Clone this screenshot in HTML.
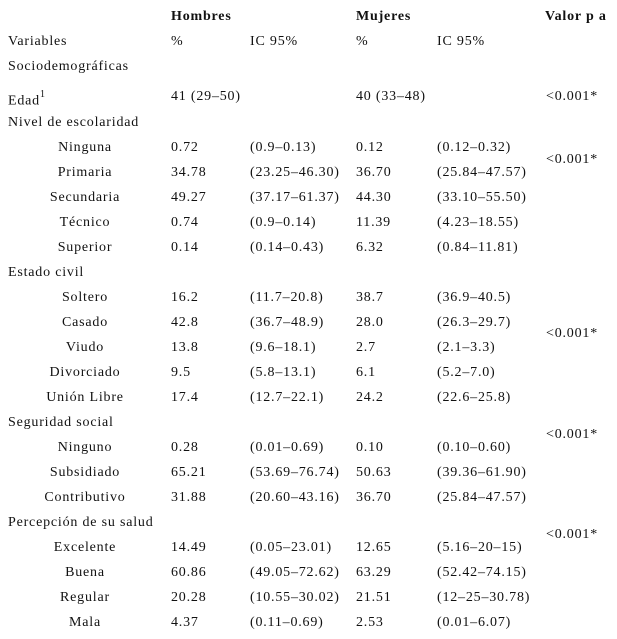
<!DOCTYPE html>
<html><head><meta charset="utf-8"><style>
body{margin:0;width:617px;height:639px;background:#fff;font-family:"Liberation Serif","DejaVu Serif",serif;font-size:14px;letter-spacing:0.8px;color:#111;position:relative;overflow:hidden}
div{position:absolute;white-space:nowrap;line-height:16px}
.b{font-weight:bold;letter-spacing:0.8px}
.c{width:170px;left:0;text-align:center}
</style></head><body>
<div class="b" style="left:171px;top:9px">Hombres</div>
<div class="b" style="left:356px;top:9px">Mujeres</div>
<div class="b" style="left:545px;top:9px">Valor p a</div>
<script>
const rows=[
["Variables","%","IC 95%","%","IC 95%",0],
["Sociodemográficas","","","","",0],
["Edad","41 (29–50)","","40 (33–48)","",0],
["Nivel de escolaridad","","","","",0],
["Ninguna","0.72","(0.9–0.13)","0.12","(0.12–0.32)",1],
["Primaria","34.78","(23.25–46.30)","36.70","(25.84–47.57)",1],
["Secundaria","49.27","(37.17–61.37)","44.30","(33.10–55.50)",1],
["Técnico","0.74","(0.9–0.14)","11.39","(4.23–18.55)",1],
["Superior","0.14","(0.14–0.43)","6.32","(0.84–11.81)",1],
["Estado civil","","","","",0],
["Soltero","16.2","(11.7–20.8)","38.7","(36.9–40.5)",1],
["Casado","42.8","(36.7–48.9)","28.0","(26.3–29.7)",1],
["Viudo","13.8","(9.6–18.1)","2.7","(2.1–3.3)",1],
["Divorciado","9.5","(5.8–13.1)","6.1","(5.2–7.0)",1],
["Unión Libre","17.4","(12.7–22.1)","24.2","(22.6–25.8)",1],
["Seguridad social","","","","",0],
["Ninguno","0.28","(0.01–0.69)","0.10","(0.10–0.60)",1],
["Subsidiado","65.21","(53.69–76.74)","50.63","(39.36–61.90)",1],
["Contributivo","31.88","(20.60–43.16)","36.70","(25.84–47.57)",1],
["Percepción de su salud","","","","",0],
["Excelente","14.49","(0.05–23.01)","12.65","(5.16–20–15)",1],
["Buena","60.86","(49.05–72.62)","63.29","(52.42–74.15)",1],
["Regular","20.28","(10.55–30.02)","21.51","(12–25–30.78)",1],
["Mala","4.37","(0.11–0.69)","2.53","(0.01–6.07)",1]];
const pvals=[[89,"<0.001*"],[152,"<0.001*"],[326,"<0.001*"],[427,"<0.001*"],[527,"<0.001*"]];
const xs=[171,250,356,437];
const root=document.body;
function rowTop(i){ if(i===0) return 34; if(i===1) return 59; if(i===2) return 89; return 115+(i-3)*25; }
rows.forEach((r,i)=>{
  const y=rowTop(i);
  const l=document.createElement('div');
  
  
  if(r[5]){l.className='c';}
  else{l.style.left='8px';}
  l.style.top=y+'px';
  l.innerHTML=r[0]+(r[0]==="Edad"?'<sup style="font-size:10px;position:relative;top:-2px">1</sup>':'');
  root.appendChild(l);
  for(let k=1;k<5;k++){ if(!r[k])continue;
    const d=document.createElement('div');
    
    
    d.style.left=xs[k-1]+'px';d.style.top=y+'px';d.textContent=r[k];root.appendChild(d);}
});
pvals.forEach(p=>{const d=document.createElement('div');


d.style.left='546px';d.style.top=p[0]+'px';d.textContent=p[1];root.appendChild(d);});
</script>
</body></html>
